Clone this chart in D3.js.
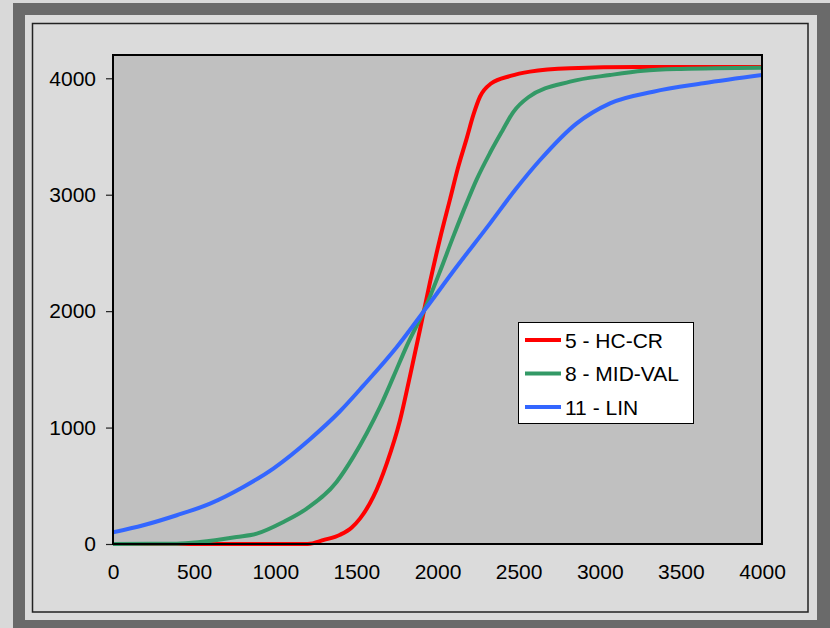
<!DOCTYPE html>
<html>
<head>
<meta charset="utf-8">
<script src="https://cdn.jsdelivr.net/npm/d3@7"></script>
<style>
html,body{margin:0;padding:0;background:#d9d9d9;}
svg{display:block;font-family:"Liberation Sans",Arial,sans-serif;}
</style>
</head>
<body>
<svg id="chart" width="830" height="628"></svg>
<script>
const seriesNames = ["5 - HC-CR", "8 - MID-VAL", "11 - LIN"];
const seriesColors = ["#ff0000", "#339966", "#3366ff"];

const hcX = [0, 1200, 1300, 1400, 1470, 1522, 1604, 1687, 1769, 1830, 1892, 1954, 2015, 2077, 2128, 2180, 2221, 2262, 2330, 2450, 2570, 2817, 3228, 4000];
const hcY = [0, 0, 35, 80, 140, 218, 404, 691, 1063, 1440, 1840, 2250, 2620, 2960, 3240, 3484, 3685, 3842, 3955, 4020, 4057, 4086, 4096, 4096];

const midX = [0, 393, 536, 762, 886, 1050, 1194, 1378, 1481, 1563, 1646, 1728, 1810, 1925, 2015, 2097, 2180, 2241, 2324, 2400, 2467, 2560, 2817, 3063, 3268, 3500, 4000];
const midY = [0, 3, 17, 60, 89, 189, 304, 533, 748, 949, 1177, 1435, 1700, 2030, 2340, 2640, 2930, 3130, 3360, 3550, 3710, 3837, 3971, 4028, 4065, 4080, 4090];

const linX = [0, 187, 393, 598, 803, 988, 1214, 1399, 1543, 1748, 1925, 2118, 2324, 2478, 2632, 2858, 3063, 3330, 3638, 4000];
const linY = [100, 161, 247, 347, 490, 648, 900, 1140, 1360, 1690, 2017, 2381, 2754, 3040, 3298, 3613, 3785, 3885, 3957, 4028];

const xTicks = [0, 500, 1000, 1500, 2000, 2500, 3000, 3500, 4000];
const yTicks = [0, 1000, 2000, 3000, 4000];

const svg = d3.select("#chart");

// frames
svg.append("rect").attr("x",0).attr("y",0).attr("width",830).attr("height",628).attr("fill","#d9d9d9");
svg.append("rect").attr("x",13).attr("y",3).attr("width",817).attr("height",625).attr("fill","#6a6a6a");
svg.append("rect").attr("x",25).attr("y",15).attr("width",792).attr("height",605).attr("fill","#dbdbdb");
svg.append("rect").attr("x",32.5).attr("y",23.5).attr("width",775.5).attr("height",588.5)
  .attr("fill","none").attr("stroke","#222").attr("stroke-width",1.5);

const L = 113, T = 55, R = 762, B = 544;
const x = d3.scaleLinear().domain([0, 4000]).range([L, R]);
const y = d3.scaleLinear().domain([0, 4200]).range([B, T]);

svg.append("rect").attr("x",L).attr("y",T).attr("width",R-L).attr("height",B-T).attr("fill","#c0c0c0");

// y axis
const yAxis = svg.append("g").attr("transform",`translate(${L},0)`)
  .call(d3.axisLeft(y).tickValues(yTicks).tickSize(7).tickPadding(10).tickFormat(d3.format("d")));
yAxis.select(".domain").remove();
yAxis.selectAll("line").attr("stroke","#222").attr("stroke-width",1.2);
yAxis.selectAll("text").attr("font-size",21).attr("fill","#000").attr("font-family","Liberation Sans, Arial, sans-serif");

// x axis
const xAxis = svg.append("g").attr("transform",`translate(0,${B})`)
  .call(d3.axisBottom(x).tickValues(xTicks).tickSize(0).tickPadding(20).tickFormat(d3.format("d")));
xAxis.select(".domain").remove();
xAxis.selectAll("text").attr("font-size",21).attr("fill","#000").attr("font-family","Liberation Sans, Arial, sans-serif");

// series
const series = [
  {xs: hcX, ys: hcY},
  {xs: midX, ys: midY},
  {xs: linX, ys: linY}
];
const line = d3.line().x(d => x(d[0])).y(d => y(d[1])).curve(d3.curveMonotoneX);
svg.append("clipPath").attr("id","pc").append("rect")
  .attr("x",L).attr("y",T).attr("width",R-L).attr("height",B-T+3);
series.forEach((s,i) => {
  const pts = s.xs.map((v,j) => [v, s.ys[j]]);
  svg.append("path").datum(pts).attr("d", line)
    .attr("fill","none").attr("stroke",seriesColors[i]).attr("stroke-width",4)
    .attr("stroke-linejoin","round").attr("clip-path","url(#pc)");
});

// plot border
svg.append("rect").attr("x",L).attr("y",T).attr("width",R-L).attr("height",B-T)
  .attr("fill","none").attr("stroke","#000").attr("stroke-width",2);

// legend
const lg = svg.append("g");
lg.append("rect").attr("x",518.5).attr("y",322.5).attr("width",175).attr("height",101)
  .attr("fill","#ffffff").attr("stroke","#000").attr("stroke-width",1);
const rowY = [340, 373.5, 407];
seriesNames.forEach((n,i) => {
  lg.append("line").attr("x1",525).attr("x2",561).attr("y1",rowY[i]).attr("y2",rowY[i])
    .attr("stroke",seriesColors[i]).attr("stroke-width",4);
  lg.append("text").attr("x",565).attr("y",rowY[i]).attr("dy","0.36em")
    .attr("font-size",21).attr("fill","#000").text(n);
});
</script>
</body>
</html>
